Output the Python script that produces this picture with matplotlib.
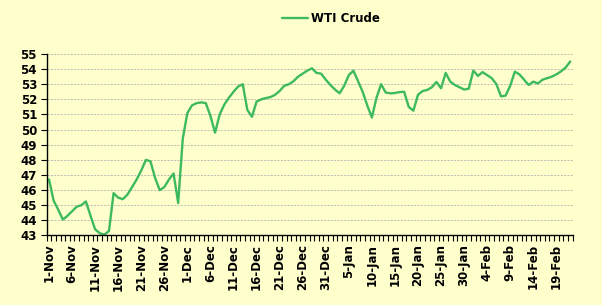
import matplotlib
matplotlib.use("Agg")
import matplotlib.pyplot as plt
import numpy as np
import pandas as pd
from matplotlib.ticker import FixedLocator

# Daily values starting 1-Nov
start_date = "2016-11-01"
wti_values = [
    46.7, 45.3, 44.7, 44.05, 44.3, 44.6, 44.9, 45.0, 45.25, 44.3,
    43.4, 43.15, 43.05, 43.3, 45.8, 45.5, 45.4, 45.7, 46.2, 46.7,
    47.3, 48.0, 47.9, 46.8, 46.0, 46.2, 46.7, 47.1, 45.15, 49.4,
    51.1, 51.6, 51.75, 51.8, 51.75, 50.9, 49.8, 51.0, 51.65, 52.1,
    52.5, 52.85, 53.0, 51.3, 50.85, 51.85, 52.0, 52.08, 52.15, 52.3,
    52.55, 52.9, 53.0, 53.2, 53.5, 53.7, 53.9, 54.05, 53.75, 53.7,
    53.3, 52.95, 52.65, 52.4, 52.9, 53.6, 53.9, 53.2, 52.5, 51.6,
    50.8, 52.1, 53.0, 52.45, 52.4, 52.42, 52.48, 52.5, 51.5, 51.25,
    52.3, 52.55, 52.62, 52.8, 53.15, 52.73, 53.75, 53.17, 52.95, 52.8,
    52.65, 52.7, 53.9, 53.55, 53.8, 53.6, 53.4, 53.0, 52.2, 52.25,
    52.9, 53.83, 53.65, 53.3, 52.95, 53.17, 53.05, 53.3, 53.4, 53.5,
    53.65, 53.85, 54.1, 54.5,
]
series_name = "WTI Crude"
y_ticks = list(range(43, 56))

dates = pd.date_range(start_date, periods=len(wti_values), freq="D")
tick_labels = [f"{d.day}-{d.strftime('%b')}" for d in dates]

bg = "#FFFFCC"
line_color = "#3DBA5E"

fig = plt.figure(figsize=(6.02, 3.05), dpi=100, facecolor=bg)
ax = fig.add_axes([0.0776, 0.228, 0.951 - 0.0776, 0.823 - 0.228])
ax.set_facecolor(bg)

x = np.arange(len(wti_values))
ax.plot(x, wti_values, color=line_color, lw=1.7, label=series_name,
        solid_joinstyle="round", solid_capstyle="round")

ax.set_xlim(-0.5, len(wti_values) - 0.5)
ax.set_ylim(43, 55)

ax.yaxis.set_major_locator(FixedLocator(y_ticks))
ax.set_yticklabels([str(v) for v in y_ticks], fontsize=8.5, fontweight="bold")
ax.grid(axis="y", color="#B4B4B4", linestyle=(0, (2.5, 1.5)), linewidth=0.6)
ax.set_axisbelow(True)

label_pos = x[::5]
ax.xaxis.set_major_locator(FixedLocator(label_pos))
ax.set_xticklabels([tick_labels[i] for i in label_pos], rotation=90,
                   fontsize=8.5, fontweight="bold")
ax.tick_params(axis="x", which="major", length=0, pad=6)
ax.xaxis.set_minor_locator(FixedLocator(np.arange(-0.5, len(wti_values), 1.0)))
ax.tick_params(axis="x", which="minor", length=4, width=0.8, direction="out")
ax.tick_params(axis="y", length=4, width=0.8, pad=3)

for s in ["top", "right"]:
    ax.spines[s].set_visible(False)
for s in ["left", "bottom"]:
    ax.spines[s].set_color("black")
    ax.spines[s].set_linewidth(1.0)

fig.legend(loc="center", bbox_to_anchor=(0.55, 0.94), frameon=False,
           prop={"weight": "bold", "size": 8.5}, handlelength=2.2,
           handletextpad=0.2)

fig.savefig("out.png", dpi=100, facecolor=bg)
